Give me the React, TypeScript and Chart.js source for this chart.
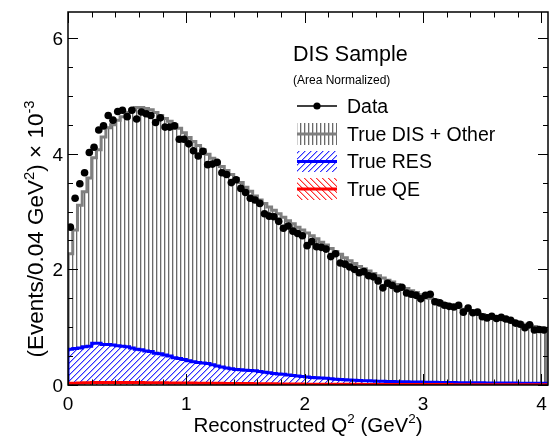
import React, { useEffect, useRef } from "react";
import { Chart, registerables } from "chart.js";

Chart.register(...registerables);

// ---------------- data ----------------
const BIN_WIDTH = 0.04;

const DATA_VALUES = [
  2.73, 3.23, 3.48, 3.67, 4.02, 4.11, 4.41, 4.48, 4.66, 4.58,
  4.73, 4.75, 4.64, 4.75, 4.60, 4.72, 4.69, 4.66, 4.54, 4.62,
  4.46, 4.46, 4.48, 4.25, 4.25, 4.17, 4.05, 3.96, 4.04, 3.81,
  3.82, 3.85, 3.67, 3.64, 3.50, 3.55, 3.40, 3.33, 3.23, 3.20,
  3.14, 2.96, 2.92, 2.91, 2.83, 2.71, 2.75, 2.66, 2.62, 2.58,
  2.41, 2.48, 2.39, 2.38, 2.35, 2.22, 2.27, 2.11, 2.09, 2.04,
  2.00, 1.94, 1.96, 1.89, 1.87, 1.80, 1.68, 1.76, 1.72, 1.66,
  1.69, 1.59, 1.57, 1.55, 1.49, 1.55, 1.57, 1.44, 1.42, 1.38,
  1.36, 1.35, 1.38, 1.26, 1.33, 1.25, 1.26, 1.18, 1.16, 1.19,
  1.15, 1.17, 1.14, 1.12, 1.07, 1.05, 0.99, 1.04, 0.95, 0.96,
  0.95,
];

// Stacked total: True DIS + Other on top of RES and QE
const MC_TOTAL = [
  2.27, 2.68, 3.11, 3.34, 3.58, 3.93, 4.07, 4.29, 4.45, 4.50,
  4.58, 4.64, 4.71, 4.76, 4.80, 4.80, 4.78, 4.76, 4.71, 4.66,
  4.61, 4.56, 4.50, 4.44, 4.36, 4.28, 4.21, 4.14, 4.07, 3.99,
  3.92, 3.85, 3.78, 3.71, 3.64, 3.57, 3.50, 3.42, 3.35, 3.27,
  3.20, 3.14, 3.08, 3.02, 2.96, 2.90, 2.84, 2.79, 2.73, 2.68,
  2.63, 2.58, 2.53, 2.47, 2.42, 2.36, 2.31, 2.26, 2.20, 2.15,
  2.10, 2.05, 2.01, 1.97, 1.93, 1.89, 1.85, 1.81, 1.78, 1.74,
  1.70, 1.67, 1.63, 1.60, 1.56, 1.53, 1.50, 1.47, 1.44, 1.41,
  1.38, 1.36, 1.34, 1.31, 1.29, 1.26, 1.24, 1.22, 1.20, 1.18,
  1.16, 1.14, 1.12, 1.11, 1.09, 1.07, 1.05, 1.03, 1.01, 0.99,
  0.98,
];

// Stacked: True RES on top of QE
const RES_STACK = [
  0.62, 0.63, 0.64, 0.66, 0.67, 0.72, 0.72, 0.70, 0.70, 0.69,
  0.68, 0.67, 0.66, 0.64, 0.62, 0.61, 0.59, 0.58, 0.55, 0.54,
  0.52, 0.50, 0.47, 0.46, 0.44, 0.42, 0.40, 0.39, 0.38, 0.37,
  0.35, 0.33, 0.31, 0.295, 0.28, 0.27, 0.265, 0.255, 0.25, 0.245,
  0.235, 0.22, 0.21, 0.20, 0.19, 0.185, 0.175, 0.165, 0.155, 0.145,
  0.14, 0.13, 0.125, 0.12, 0.115, 0.11, 0.10, 0.095, 0.09, 0.085,
  0.08, 0.078, 0.075, 0.072, 0.07, 0.067, 0.064, 0.062, 0.06, 0.058,
  0.057, 0.055, 0.053, 0.051, 0.05, 0.048, 0.047, 0.046, 0.045, 0.044,
  0.043, 0.042, 0.041, 0.04, 0.04, 0.039, 0.038, 0.037, 0.036, 0.036,
  0.035, 0.035, 0.034, 0.033, 0.033, 0.032, 0.032, 0.031, 0.03, 0.03,
  0.03,
];

const QE_VALUES = [
  0.03, 0.03, 0.035, 0.04, 0.04, 0.045, 0.045, 0.045, 0.045, 0.045,
  0.045, 0.045, 0.045, 0.045, 0.045, 0.045, 0.04, 0.04, 0.04, 0.04,
  0.04, 0.035, 0.035, 0.035, 0.035, 0.035, 0.035, 0.03, 0.03, 0.03,
  0.03, 0.03, 0.03, 0.028, 0.028, 0.026, 0.025, 0.025, 0.024, 0.023,
  0.022, 0.021, 0.02, 0.02, 0.019, 0.018, 0.018, 0.017, 0.016, 0.016,
  0.015, 0.015, 0.014, 0.014, 0.013, 0.013, 0.012, 0.012, 0.012, 0.011,
  0.011, 0.011, 0.01, 0.01, 0.01, 0.01, 0.009, 0.009, 0.009, 0.009,
  0.008, 0.008, 0.008, 0.008, 0.008, 0.007, 0.007, 0.007, 0.007, 0.007,
  0.007, 0.006, 0.006, 0.006, 0.006, 0.006, 0.006, 0.006, 0.005, 0.005,
  0.005, 0.005, 0.005, 0.005, 0.005, 0.005, 0.005, 0.005, 0.005, 0.005,
  0.005,
];

const X_TICKS = [0, 1, 2, 3, 4];
const X_TICK_LABELS = ["0", "1", "2", "3", "4"];
const Y_TICKS = [0, 2, 4, 6];
const Y_TICK_LABELS = ["0", "2", "4", "6"];
const X_MINOR_STEP = 0.2;
const Y_MINOR_STEP = 0.5;
const X_MIN = 0;
const X_MAX = 4.055;
const Y_MIN = 0;
const Y_MAX = 6.45;

const LEGEND_TITLE = "DIS Sample";
const LEGEND_SUBTITLE = "(Area Normalized)";
const LEGEND_LABELS = ["Data", "True DIS + Other", "True RES", "True QE"];

// ---------------- helpers ----------------
const FONT = '"Liberation Sans", Arial, Helvetica, sans-serif';
const W = 553;
const H = 439;

function histPoints(values: number[]) {
  const pts: { x: number; y: number }[] = [{ x: 0, y: 0 }];
  values.forEach((v, i) => pts.push({ x: i * BIN_WIDTH, y: v }));
  const end = values.length * BIN_WIDTH;
  pts.push({ x: end, y: values[values.length - 1] });
  pts.push({ x: end, y: 0 });
  return pts;
}

function makePattern(kind: "vert" | "fwd" | "back", color: string, soft: string) {
  const c = document.createElement("canvas");
  const g = c.getContext("2d")!;
  if (kind === "vert") {
    c.width = 4;
    c.height = 4;
    g.fillStyle = color;
    g.fillRect(0, 0, 1, 4);
    g.fillStyle = soft;
    g.fillRect(1, 0, 1, 4);
  } else {
    const s = 6;
    c.width = s;
    c.height = s;
    g.fillStyle = "#fff";
    g.fillRect(0, 0, s, s);
    for (let i = 0; i < s; i++) {
      const y = kind === "fwd" ? s - 1 - i : i;
      g.fillStyle = color;
      g.fillRect(i, y, 1, 1);
      g.fillStyle = soft;
      g.fillRect((i + 1) % s, y, 1, 1);
    }
  }
  return g.createPattern(c, "repeat")!;
}

type Part = [string, boolean];
function drawRich(ctx: CanvasRenderingContext2D, parts: Part[], x: number, y: number, size: number, align: "left" | "center") {
  const supSize = size * 0.66;
  const widths = parts.map(([t, sup]) => {
    ctx.font = `${sup ? supSize : size}px ${FONT}`;
    return ctx.measureText(t).width;
  });
  const total = widths.reduce((a, b) => a + b, 0);
  let cx = align === "center" ? x - total / 2 : x;
  ctx.textAlign = "left";
  ctx.textBaseline = "alphabetic";
  parts.forEach(([t, sup], i) => {
    ctx.font = `${sup ? supSize : size}px ${FONT}`;
    ctx.fillText(t, cx, sup ? y - size * 0.42 : y);
    cx += widths[i];
  });
}

// ---------------- component ----------------
export default function App() {
  const ref = useRef<HTMLCanvasElement | null>(null);

  useEffect(() => {
    const canvas = ref.current!;
    const ctx0 = canvas.getContext("2d")!;
    const grayPat = makePattern("vert", "#6a6a6a", "rgba(150,150,150,0.45)");
    const bluePat = makePattern("fwd", "#3030ff", "#a8a8ff");
    const redPat = makePattern("back", "#ff3030", "#ffa8a8");

    const framePlugin = {
      id: "rootFrame",
      afterDraw(chart: any) {
        const ctx: CanvasRenderingContext2D = chart.ctx;
        const xs = chart.scales.x;
        const ys = chart.scales.y;
        const { left, right, top, bottom } = chart.chartArea;
        ctx.save();
        ctx.strokeStyle = "#000";
        ctx.fillStyle = "#000";
        ctx.lineWidth = 1.5;
        ctx.strokeRect(left, top, right - left, bottom - top);

        ctx.lineWidth = 1;
        ctx.beginPath();
        for (let v = X_MIN; v <= X_MAX + 1e-9; v += X_MINOR_STEP) {
          const vv = Math.round(v * 1000) / 1000;
          const isMajor = Math.abs(vv - Math.round(vv)) < 1e-6;
          const len = isMajor ? 11 : 5.5;
          const px = Math.round(xs.getPixelForValue(vv)) + 0.5;
          ctx.moveTo(px, bottom);
          ctx.lineTo(px, bottom - len);
          ctx.moveTo(px, top);
          ctx.lineTo(px, top + len);
        }
        for (let v = Y_MIN; v <= Y_MAX + 1e-9; v += Y_MINOR_STEP) {
          const isMajor = Math.abs(v / 2 - Math.round(v / 2)) < 1e-6;
          const len = isMajor ? 10 : 5;
          const py = Math.round(ys.getPixelForValue(v)) + 0.5;
          ctx.moveTo(left, py);
          ctx.lineTo(left + len, py);
          ctx.moveTo(right, py);
          ctx.lineTo(right - len, py);
        }
        ctx.stroke();

        ctx.font = `19px ${FONT}`;
        ctx.textBaseline = "alphabetic";
        ctx.textAlign = "center";
        X_TICKS.forEach((v, i) => {
          ctx.fillText(X_TICK_LABELS[i], xs.getPixelForValue(v), 410);
        });
        ctx.textAlign = "right";
        Y_TICKS.forEach((v, i) => {
          ctx.fillText(Y_TICK_LABELS[i], left - 5, ys.getPixelForValue(v) + 7);
        });

        drawRich(ctx, [["Reconstructed Q", false], ["2", true], [" (GeV", false], ["2", true], [")", false]],
          (left + right) / 2, 432, 20.5, "center");
        ctx.save();
        ctx.translate(43, 229);
        ctx.rotate(-Math.PI / 2);
        drawRich(ctx, [["(Events/0.04 GeV", false], ["2", true], [") \u00d7 10", false], ["-3", true]], 0, 0, 22.5, "center");
        ctx.restore();

        ctx.textAlign = "left";
        ctx.fillStyle = "#000";
        ctx.font = `21.5px ${FONT}`;
        ctx.fillText(LEGEND_TITLE, 293, 61);
        ctx.font = `12px ${FONT}`;
        ctx.fillText(LEGEND_SUBTITLE, 293, 84);

        const bx0 = 297, bx1 = 337;
        ctx.strokeStyle = "#000";
        ctx.lineWidth = 1.5;
        ctx.beginPath();
        ctx.moveTo(bx0, 106);
        ctx.lineTo(bx1, 106);
        ctx.stroke();
        ctx.beginPath();
        ctx.arc((bx0 + bx1) / 2, 106, 3.6, 0, Math.PI * 2);
        ctx.fill();

        const boxes: [number, number, CanvasPattern, string][] = [
          [123, 145, grayPat, "#7f7f7f"],
          [151, 172, bluePat, "#0000ff"],
          [178, 200, redPat, "#ff0000"],
        ];
        boxes.forEach(([y0, y1, pat, col]) => {
          ctx.fillStyle = pat;
          ctx.fillRect(bx0, y0, bx1 - bx0, y1 - y0);
          ctx.strokeStyle = col;
          ctx.lineWidth = 3;
          ctx.beginPath();
          ctx.moveTo(bx0, (y0 + y1) / 2);
          ctx.lineTo(bx1, (y0 + y1) / 2);
          ctx.stroke();
        });

        ctx.fillStyle = "#000";
        ctx.font = `19.5px ${FONT}`;
        ctx.fillText(LEGEND_LABELS[0], 347, 113);
        ctx.fillText(LEGEND_LABELS[1], 347, 141);
        ctx.fillText(LEGEND_LABELS[2], 347, 168);
        ctx.fillText(LEGEND_LABELS[3], 347, 196);
        ctx.restore();
      },
    };

    const chart = new Chart(ctx0, {
      type: "line",
      data: {
        datasets: [
          {
            label: LEGEND_LABELS[0],
            data: DATA_VALUES.map((v, i) => ({ x: (i + 0.5) * BIN_WIDTH, y: v })),
            showLine: false,
            pointRadius: 3.8,
            pointBackgroundColor: "#000",
            pointBorderColor: "#000",
            pointBorderWidth: 0,
            order: 0,
          } as any,
          {
            label: LEGEND_LABELS[3],
            data: histPoints(QE_VALUES),
            stepped: "before",
            borderColor: "#ff0000",
            borderWidth: 3,
            backgroundColor: redPat,
            fill: "origin",
            pointRadius: 0,
            order: 1,
          } as any,
          {
            label: LEGEND_LABELS[2],
            data: histPoints(RES_STACK),
            stepped: "before",
            borderColor: "#0000ff",
            borderWidth: 3,
            backgroundColor: bluePat,
            fill: "origin",
            pointRadius: 0,
            order: 2,
          } as any,
          {
            label: LEGEND_LABELS[1],
            data: histPoints(MC_TOTAL),
            stepped: "before",
            borderColor: "#7f7f7f",
            borderWidth: 3,
            backgroundColor: grayPat,
            fill: "origin",
            pointRadius: 0,
            order: 3,
          } as any,
        ],
      },
      options: {
        responsive: false,
        animation: false,
        devicePixelRatio: 1,
        layout: { padding: { left: 68, top: 12, right: W - 548, bottom: H - 385 } },
        plugins: {
          legend: { display: false },
          tooltip: { enabled: false },
          title: { display: false },
        },
        scales: {
          x: { type: "linear", min: X_MIN, max: X_MAX, display: false },
          y: { type: "linear", min: Y_MIN, max: Y_MAX, display: false },
        },
      },
      plugins: [framePlugin],
    } as any);

    return () => chart.destroy();
  }, []);

  return (
    <div style={{ position: "absolute", left: 0, top: 0, width: W, height: H, background: "#fff" }}>
      <canvas ref={ref} width={W} height={H} style={{ display: "block", width: W, height: H }} />
    </div>
  );
}
